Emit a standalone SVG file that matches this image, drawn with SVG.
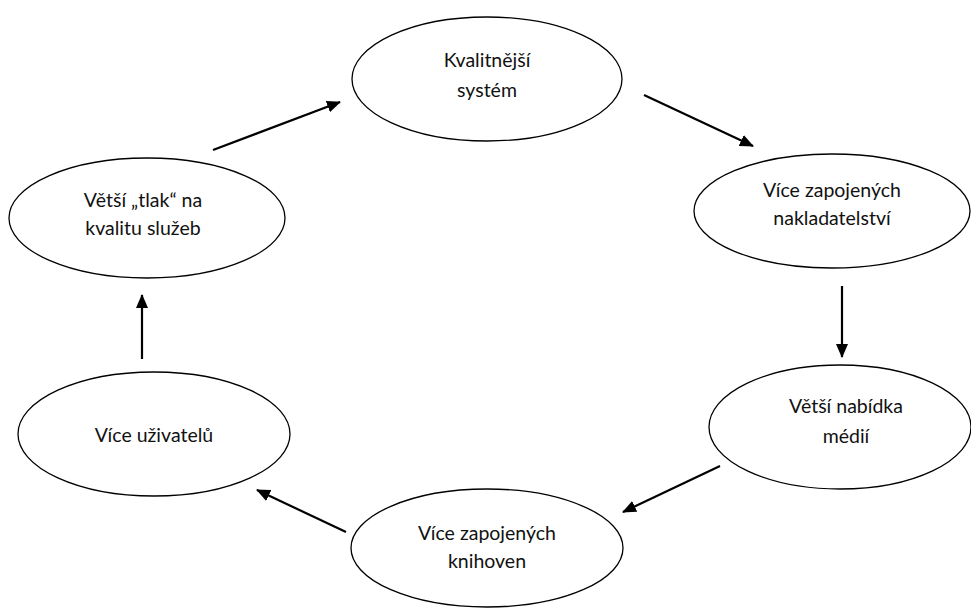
<svg xmlns="http://www.w3.org/2000/svg" width="971" height="608" viewBox="0 0 971 608">
<style>
.node ellipse{fill:#fff;stroke:#000;stroke-width:1.3}
.node text{font-family:Lato,"Open Sans","Liberation Sans",sans-serif;font-size:19.5px;fill:#111;text-anchor:middle}
.conn line{stroke:#000;stroke-width:2.2;marker-end:url(#ah)}
</style>
<defs>
<marker id="ah" viewBox="0 0 14 12" refX="13" refY="6" markerWidth="14" markerHeight="12" markerUnits="userSpaceOnUse" orient="auto">
<path d="M0,0 L14,6 L0,12 Z" fill="#000"/>
</marker>
</defs>
<rect width="971" height="608" fill="#fff"/>
<g id="n1" class="node"><ellipse cx="487" cy="79" rx="135" ry="62"/><text x="487" y="67">Kvalitnější</text><text x="487" y="97">systém</text></g>
<g id="n2" class="node"><ellipse cx="832" cy="211" rx="138" ry="57"/><text x="832" y="197">Více zapojených</text><text x="832" y="225">nakladatelství</text></g>
<g id="n3" class="node"><ellipse cx="840" cy="427" rx="131" ry="62"/><text x="846" y="413">Větší nabídka</text><text x="846" y="443">médií</text></g>
<g id="n4" class="node"><ellipse cx="487" cy="548" rx="136" ry="59"/><text x="487" y="540">Více zapojených</text><text x="487" y="568">knihoven</text></g>
<g id="n5" class="node"><ellipse cx="154" cy="434" rx="136" ry="62"/><text x="154" y="442">Více uživatelů</text></g>
<g id="n6" class="node"><ellipse cx="147" cy="218" rx="138" ry="60"/><text x="143" y="207">Větší „tlak“ na</text><text x="143" y="235">kvalitu služeb</text></g>
<g id="connectors" class="conn">
<line x1="213" y1="150" x2="340" y2="102"/>
<line x1="644" y1="95" x2="753" y2="146"/>
<line x1="842" y1="286" x2="842" y2="357"/>
<line x1="720" y1="466" x2="623" y2="512"/>
<line x1="346" y1="532" x2="257" y2="490"/>
<line x1="142" y1="359" x2="142" y2="295"/>
</g>
</svg>
